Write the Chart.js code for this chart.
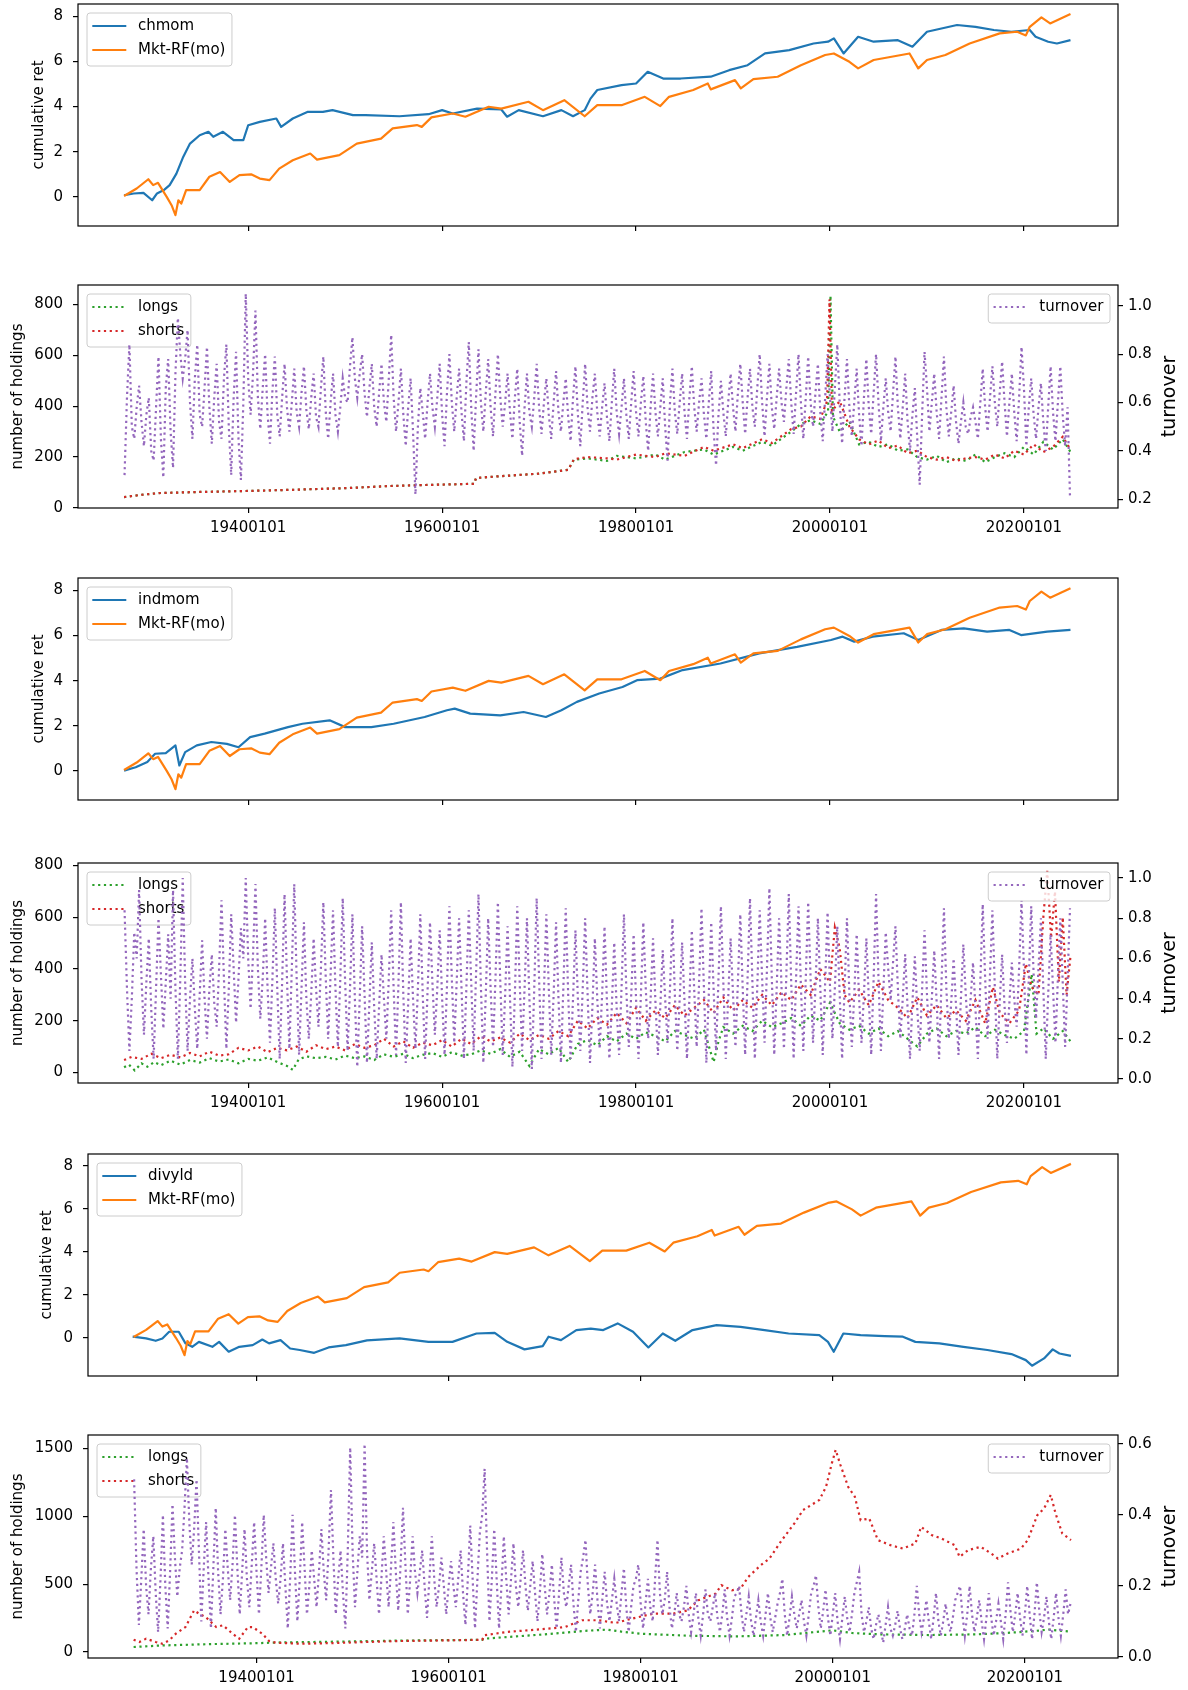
<!DOCTYPE html>
<html>
<head>
<meta charset="utf-8">
<script src="https://cdn.jsdelivr.net/npm/chart.js@4.4.1/dist/chart.umd.min.js"></script>
<style>
html, body { margin: 0; padding: 0; background: #fff; overflow: hidden; }
#wrap { position: relative; width: 1188px; height: 1690px; }
canvas { position: absolute; left: 0; }
</style>
</head>
<body>
<div id="wrap"></div>
<script>
// ---- data (years as decimal) ----
const xTicks = [1940, 1960, 1980, 2000, 2020];
const retTicks = [0, 2, 4, 6, 8];

const mktRf = [[1927.2,0.04],[1928.5,0.37],[1929.7,0.78],[1930.2,0.52],[1930.7,0.62],[1931.6,0.0],[1932.1,-0.37],[1932.5,-0.81],[1932.8,-0.15],[1933.1,-0.3],[1933.6,0.3],[1935,0.3],[1936,0.89],[1937.1,1.1],[1938.1,0.66],[1939.1,0.96],[1940.3,1.0],[1941.2,0.81],[1942.2,0.74],[1943.2,1.25],[1944.6,1.62],[1946.4,1.92],[1947.1,1.65],[1949.4,1.85],[1951.2,2.36],[1953.7,2.58],[1954.9,3.03],[1957.4,3.18],[1957.9,3.1],[1958.9,3.52],[1961.1,3.69],[1962.4,3.55],[1964.8,3.99],[1966.1,3.91],[1968.9,4.21],[1970.4,3.84],[1972.6,4.28],[1974.7,3.57],[1976,4.06],[1978.5,4.06],[1980.9,4.43],[1982.5,4.02],[1983.4,4.43],[1985.9,4.73],[1987.4,5.02],[1987.7,4.76],[1990.2,5.17],[1990.8,4.8],[1992.1,5.21],[1994.6,5.32],[1997,5.83],[1999.5,6.28],[2000.4,6.35],[2002,5.98],[2002.9,5.69],[2004.5,6.06],[2008.2,6.35],[2009.1,5.69],[2010,6.06],[2011.9,6.28],[2014.4,6.79],[2017.5,7.24],[2019.3,7.31],[2020.2,7.15],[2020.6,7.53],[2021.8,7.95],[2022.7,7.68],[2024.8,8.1]];

const chmom = [[1927.2,0.07],[1928.2,0.15],[1929.2,0.18],[1930.1,-0.15],[1930.6,0.15],[1931.3,0.3],[1931.9,0.52],[1932.6,1.03],[1933.3,1.77],[1934,2.36],[1935,2.73],[1935.9,2.88],[1936.4,2.66],[1937.4,2.88],[1938.5,2.51],[1939.5,2.51],[1940,3.17],[1941.2,3.32],[1942.9,3.47],[1943.4,3.1],[1944.6,3.47],[1946.1,3.76],[1947.7,3.76],[1948.7,3.84],[1950.8,3.62],[1952.1,3.62],[1955.6,3.57],[1958.6,3.66],[1960,3.84],[1961.1,3.69],[1963.6,3.91],[1966.1,3.87],[1966.7,3.55],[1967.9,3.84],[1970.4,3.57],[1972.3,3.84],[1973.5,3.57],[1974.7,3.84],[1975.3,4.35],[1976,4.73],[1978.5,4.95],[1980,5.02],[1981.2,5.54],[1982.8,5.24],[1984.6,5.24],[1987.7,5.32],[1989.6,5.61],[1991.5,5.83],[1993.3,6.35],[1995.8,6.5],[1998.3,6.79],[1999.8,6.87],[2000.4,7.02],[2001.4,6.35],[2002.9,7.09],[2004.5,6.87],[2007,6.94],[2008.5,6.65],[2010,7.31],[2013.1,7.61],[2015,7.53],[2016.9,7.39],[2018.7,7.31],[2020.6,7.39],[2021.2,7.09],[2022.5,6.87],[2023.4,6.79],[2024.8,6.94]];

const indmom = [[1927.2,0.01],[1928.4,0.16],[1929.6,0.39],[1930.4,0.76],[1931.5,0.79],[1932.5,1.13],[1932.9,0.24],[1933.5,0.83],[1934.7,1.13],[1936.2,1.28],[1937.8,1.2],[1939,1.05],[1940.2,1.5],[1941.7,1.65],[1944.1,1.94],[1945.6,2.09],[1948.4,2.24],[1950,1.94],[1952.7,1.94],[1955,2.09],[1958.2,2.39],[1960.5,2.69],[1961.3,2.76],[1962.9,2.54],[1966,2.46],[1968.4,2.61],[1970.7,2.39],[1972.3,2.69],[1973.9,3.06],[1976.2,3.43],[1978.6,3.72],[1980.1,4.02],[1982.5,4.09],[1984.8,4.47],[1988.7,4.76],[1992.7,5.21],[1996.6,5.5],[2000.1,5.8],[2001.3,5.95],[2002.5,5.73],[2004.4,5.95],[2007.6,6.1],[2009.1,5.8],[2011.5,6.25],[2013.8,6.32],[2016.2,6.17],[2018.5,6.25],[2019.7,6.02],[2022.4,6.17],[2024.8,6.25]];

const divyld = [[1927.1,0.05],[1928.5,-0.03],[1929.5,-0.14],[1930.2,-0.03],[1930.9,0.28],[1931.9,0.28],[1932.6,-0.26],[1933.3,-0.42],[1934,-0.19],[1935.4,-0.42],[1936.1,-0.19],[1937.1,-0.65],[1938.2,-0.42],[1939.6,-0.34],[1940.6,-0.08],[1941.3,-0.26],[1942.5,-0.11],[1943.5,-0.5],[1944.5,-0.57],[1946,-0.7],[1947.5,-0.45],[1949.3,-0.34],[1951.5,-0.12],[1954.9,-0.03],[1957.9,-0.19],[1960.4,-0.19],[1962.9,0.2],[1964.8,0.23],[1966.1,-0.19],[1967.9,-0.54],[1969.8,-0.39],[1970.4,0.05],[1971.7,-0.11],[1973.3,0.36],[1974.8,0.43],[1976.1,0.36],[1977.6,0.67],[1979.2,0.28],[1980.8,-0.45],[1982.3,0.2],[1983.6,-0.14],[1985.4,0.36],[1987.9,0.59],[1990.4,0.51],[1992.9,0.36],[1995.4,0.2],[1998.6,0.12],[1999.5,-0.19],[2000.1,-0.65],[2001.1,0.2],[2002.9,0.12],[2005.4,0.08],[2007.3,0.05],[2008.6,-0.19],[2011.1,-0.26],[2013.6,-0.42],[2016.1,-0.57],[2018.6,-0.76],[2020.1,-1.04],[2020.75,-1.3],[2022,-0.96],[2022.9,-0.54],[2023.6,-0.73],[2024.8,-0.84]];

// holdings (left axis) as [year, count]
const chmomLongs = [[1927.2,43],[1929,52],[1931,59],[1935,63],[1940,67],[1945,72],[1950,78],[1955,87],[1960,92],[1963.3,95],[1963.5,118],[1966,125],[1970,135],[1973,150],[1973.6,190],[1975,195],[1977,185],[1978,205],[1980,195],[1982,210],[1983,190],[1985,220],[1987,230],[1988,210],[1990,240],[1991,225],[1993,260],[1994,245],[1996,300],[1997,330],[1998,345],[1999,330],[1999.8,380],[2000.05,834],[2000.3,360],[2001,300],[2002,340],[2003,250],[2004,260],[2005,240],[2006,250],[2007,225],[2008,230],[2009,200],[2010,190],[2011,205],[2012,180],[2013,195],[2014,185],[2015,210],[2016,180],[2017,200],[2018,215],[2019,200],[2020,240],[2021,210],[2022,260],[2023,230],[2024,270],[2024.8,220]];
const chmomShorts = [[1927.2,43],[1929,52],[1931,59],[1935,63],[1940,67],[1945,72],[1950,78],[1955,87],[1960,92],[1963.3,95],[1963.5,118],[1966,125],[1970,135],[1973,150],[1973.6,192],[1975,200],[1977,195],[1978,190],[1980,210],[1982,200],[1983,215],[1985,205],[1987,240],[1988,225],[1990,250],[1991,235],[1993,270],[1994,255],[1996,310],[1997,320],[1998,360],[1999,350],[1999.7,420],[1999.95,820],[2000.2,380],[2001,420],[2002,320],[2003,270],[2004,250],[2005,265],[2006,235],[2007,245],[2008,215],[2009,225],[2010,200],[2011,190],[2012,200],[2013,185],[2014,195],[2015,200],[2016,190],[2017,210],[2018,195],[2019,225],[2020,210],[2021,250],[2022,220],[2023,240],[2024,280],[2024.8,230]];

const indmomLongs = [[1927.2,20],[1927.7,30],[1928.3,8],[1929,35],[1929.6,22],[1930.3,40],[1931,28],[1932,45],[1933,30],[1934,48],[1935,38],[1936,55],[1937,42],[1938,50],[1939,35],[1940,52],[1941,45],[1942,58],[1943,40],[1944,25],[1944.6,10],[1945.2,50],[1946,62],[1947,55],[1948,60],[1949,50],[1950,65],[1951,55],[1952,62],[1953,48],[1954,70],[1955,60],[1956,72],[1957,55],[1958,68],[1959,75],[1960,60],[1961,78],[1962,65],[1963,70],[1964,85],[1965,72],[1966,90],[1967,60],[1968,80],[1969,25],[1970,90],[1971,70],[1972,95],[1973,40],[1974,110],[1975,125],[1976,105],[1977,140],[1978,120],[1979,150],[1980,130],[1981,155],[1982,140],[1983,120],[1984,160],[1985,145],[1986,130],[1987,165],[1988,40],[1988.5,120],[1989,175],[1990,150],[1991,180],[1992,160],[1993,200],[1994,175],[1995,190],[1996,210],[1997,180],[1998,220],[1999,200],[2000,270],[2001,190],[2002,165],[2003,180],[2004,150],[2005,170],[2006,140],[2007,160],[2008,130],[2009,100],[2010,150],[2011,170],[2012,140],[2013,160],[2014,150],[2015,175],[2016,140],[2017,165],[2018,145],[2019,130],[2020,160],[2020.8,380],[2021.3,150],[2022,170],[2023,130],[2024,160],[2024.8,120]];
const indmomShorts = [[1927.2,48],[1928,60],[1929,52],[1930,72],[1931,55],[1932,68],[1933,58],[1934,75],[1935,62],[1936,80],[1937,65],[1938,70],[1939,95],[1940,85],[1941,100],[1942,78],[1943,95],[1944,85],[1945,100],[1946,80],[1947,105],[1948,90],[1949,100],[1950,85],[1951,110],[1952,95],[1953,105],[1954,130],[1955,100],[1956,120],[1957,95],[1958,115],[1959,105],[1960,125],[1961,100],[1962,130],[1963,110],[1964,140],[1965,120],[1966,135],[1967,115],[1968,150],[1969,125],[1970,145],[1971,130],[1972,160],[1973,140],[1974,200],[1975,170],[1976,210],[1977,185],[1978,230],[1979,190],[1980,250],[1981,200],[1982,240],[1983,210],[1984,260],[1985,220],[1986,250],[1987,280],[1988,230],[1989,290],[1990,240],[1991,280],[1992,250],[1993,300],[1994,260],[1995,310],[1996,280],[1997,340],[1998,300],[1999,400],[2000,350],[2000.5,560],[2001,480],[2001.5,300],[2002,270],[2003,320],[2004,260],[2005,350],[2006,280],[2007,250],[2008,210],[2009,290],[2010,220],[2011,260],[2012,210],[2013,240],[2014,200],[2015,280],[2016,190],[2016.8,330],[2017.5,230],[2018.5,190],[2019.5,240],[2020.2,420],[2020.8,330],[2021.5,300],[2022,600],[2022.4,780],[2022.8,520],[2023.2,700],[2023.6,350],[2024,600],[2024.4,300],[2024.8,450]];

const divyldLongs = [[1927.2,37],[1930,48],[1935,58],[1940,65],[1942,70],[1950,78],[1955,84],[1963.5,90],[1963.7,98],[1966,110],[1970,130],[1974,155],[1976.5,165],[1978,150],[1980,135],[1985,120],[1990,115],[1995,125],[2000,160],[2002,140],[2005,130],[2010,125],[2015,130],[2018,140],[2021,155],[2022.5,165],[2024.8,150]];
const divyldShorts = [[1927.2,91],[1927.8,74],[1928.5,98],[1929.5,74],[1930.2,61],[1930.9,86],[1931.6,135],[1932.6,184],[1933.5,307],[1934,283],[1934.7,258],[1935.8,184],[1936.5,197],[1937.5,135],[1938.2,98],[1939.1,184],[1939.6,184],[1940.6,135],[1941.3,81],[1942,69],[1944.5,61],[1948,66],[1951.4,74],[1955,81],[1960,86],[1963.5,90],[1963.7,123],[1966.1,148],[1970.4,172],[1972.1,184],[1973.9,234],[1975.6,234],[1977.4,214],[1979.1,246],[1981.3,283],[1983.4,283],[1984.9,307],[1986,381],[1987.8,430],[1988.4,492],[1989.5,455],[1990.4,467],[1991.2,553],[1992.5,639],[1993.4,688],[1994.7,824],[1996,947],[1996.9,1045],[1998.6,1119],[1999.3,1217],[1999.9,1389],[2000.3,1488],[2000.8,1377],[2001.6,1217],[2002.3,1143],[2002.9,971],[2003.8,983],[2004.7,824],[2006,787],[2007.3,762],[2008.6,799],[2009.2,922],[2010.3,861],[2011.3,836],[2012.7,787],[2013.2,701],[2014.1,750],[2015.4,775],[2016.5,725],[2017.2,688],[2018.2,725],[2019.6,762],[2020.3,824],[2021.3,1008],[2022,1057],[2022.7,1156],[2023.2,1020],[2023.9,873],[2024.8,824]];

// turnover (right axis), one value per quarter from 1927.25 to 2024.75
const quarters = [];
for (let i = 0; i < 391; i++) quarters.push(1927.25 + i * 0.25);

const chmomTurnover = [
  0.30,0.62,0.84,0.50,0.45,0.58,0.67,0.52,0.42,0.55,
  0.62,0.40,0.36,0.58,0.79,0.45,0.29,0.66,0.78,0.48,
  0.33,0.72,0.95,0.80,0.70,0.78,0.90,0.60,0.45,0.70,
  0.84,0.55,0.50,0.66,0.83,0.58,0.43,0.62,0.76,0.52,
  0.45,0.70,0.84,0.50,0.30,0.62,0.81,0.45,0.28,0.60,
  1.05,0.70,0.55,0.72,0.98,0.62,0.49,0.66,0.80,0.55,
  0.43,0.65,0.79,0.55,0.46,0.62,0.76,0.58,0.48,0.60,
  0.74,0.56,0.50,0.64,0.75,0.57,0.49,0.62,0.72,0.54,
  0.50,0.66,0.79,0.56,0.45,0.60,0.72,0.55,0.48,0.58,
  0.70,0.62,0.60,0.75,0.87,0.70,0.62,0.72,0.80,0.64,
  0.54,0.66,0.76,0.58,0.50,0.64,0.76,0.60,0.52,0.70,
  0.88,0.62,0.48,0.60,0.74,0.55,0.42,0.58,0.70,0.48,
  0.22,0.50,0.66,0.56,0.45,0.60,0.72,0.58,0.50,0.62,
  0.76,0.55,0.42,0.64,0.80,0.60,0.48,0.62,0.74,0.56,
  0.44,0.68,0.85,0.58,0.40,0.62,0.82,0.60,0.48,0.64,
  0.78,0.58,0.46,0.64,0.80,0.62,0.50,0.60,0.72,0.56,
  0.45,0.62,0.74,0.52,0.38,0.58,0.72,0.56,0.50,0.62,
  0.76,0.58,0.47,0.60,0.70,0.55,0.45,0.60,0.73,0.56,
  0.48,0.60,0.70,0.54,0.44,0.62,0.75,0.55,0.42,0.60,
  0.76,0.58,0.48,0.62,0.72,0.56,0.46,0.58,0.68,0.54,
  0.44,0.60,0.74,0.56,0.47,0.58,0.70,0.55,0.45,0.60,
  0.73,0.56,0.46,0.60,0.71,0.52,0.40,0.58,0.72,0.56,
  0.46,0.58,0.70,0.50,0.36,0.60,0.74,0.56,0.47,0.60,
  0.72,0.56,0.45,0.62,0.75,0.58,0.48,0.60,0.70,0.55,
  0.45,0.60,0.73,0.48,0.34,0.55,0.69,0.56,0.46,0.60,
  0.72,0.58,0.48,0.64,0.76,0.60,0.47,0.62,0.74,0.58,
  0.50,0.66,0.80,0.60,0.46,0.62,0.76,0.58,0.49,0.62,
  0.74,0.60,0.52,0.66,0.78,0.60,0.47,0.64,0.80,0.60,
  0.45,0.62,0.79,0.60,0.50,0.64,0.76,0.56,0.44,0.62,
  0.80,0.62,0.48,0.66,0.84,0.60,0.43,0.62,0.78,0.58,
  0.46,0.60,0.74,0.55,0.42,0.62,0.78,0.58,0.47,0.64,
  0.80,0.60,0.44,0.58,0.70,0.56,0.48,0.64,0.79,0.58,
  0.45,0.58,0.72,0.52,0.40,0.55,0.66,0.45,0.26,0.55,
  0.81,0.66,0.48,0.60,0.72,0.56,0.45,0.62,0.79,0.58,
  0.46,0.56,0.67,0.52,0.43,0.52,0.60,0.50,0.47,0.54,
  0.58,0.52,0.45,0.60,0.74,0.58,0.48,0.62,0.75,0.60,
  0.50,0.64,0.77,0.60,0.46,0.60,0.72,0.56,0.44,0.62,
  0.83,0.66,0.42,0.58,0.70,0.55,0.45,0.58,0.68,0.52,
  0.40,0.58,0.75,0.56,0.44,0.60,0.75,0.55,0.42,0.58,
  0.21];

const indmomTurnover = [
  0.84,0.45,0.14,0.40,0.73,0.60,0.94,0.50,0.22,0.48,
  0.70,0.35,0.10,0.45,0.80,0.52,0.25,0.48,0.72,0.40,
  0.94,0.45,0.10,0.50,1.00,0.48,0.14,0.40,0.60,0.35,
  0.15,0.42,0.69,0.40,0.20,0.45,0.62,0.38,0.26,0.55,
  0.89,0.50,0.15,0.45,0.82,0.55,0.28,0.50,0.75,0.60,
  1.00,0.60,0.35,0.62,0.97,0.55,0.30,0.50,0.80,0.45,
  0.18,0.50,0.85,0.45,0.10,0.48,0.92,0.50,0.15,0.55,
  0.97,0.50,0.12,0.45,0.78,0.40,0.20,0.42,0.70,0.45,
  0.26,0.55,0.88,0.50,0.20,0.52,0.84,0.45,0.16,0.50,
  0.90,0.48,0.14,0.45,0.82,0.40,0.06,0.40,0.76,0.42,
  0.08,0.38,0.68,0.35,0.10,0.36,0.62,0.40,0.20,0.50,
  0.84,0.45,0.12,0.48,0.88,0.42,0.08,0.38,0.70,0.40,
  0.15,0.45,0.82,0.42,0.10,0.44,0.78,0.48,0.22,0.45,
  0.74,0.40,0.12,0.46,0.86,0.50,0.18,0.48,0.80,0.45,
  0.10,0.45,0.84,0.48,0.14,0.52,0.92,0.46,0.08,0.42,
  0.80,0.45,0.16,0.50,0.88,0.48,0.12,0.42,0.76,0.40,
  0.06,0.42,0.86,0.48,0.14,0.45,0.80,0.40,0.05,0.45,
  0.90,0.50,0.10,0.44,0.82,0.45,0.12,0.42,0.78,0.40,
  0.08,0.45,0.85,0.42,0.10,0.40,0.74,0.40,0.14,0.45,
  0.80,0.42,0.08,0.36,0.70,0.40,0.15,0.42,0.76,0.38,
  0.10,0.36,0.68,0.35,0.12,0.45,0.82,0.44,0.16,0.42,
  0.72,0.40,0.10,0.42,0.78,0.45,0.20,0.40,0.70,0.38,
  0.12,0.36,0.64,0.40,0.18,0.45,0.80,0.42,0.14,0.40,
  0.68,0.38,0.10,0.40,0.74,0.44,0.16,0.48,0.85,0.45,
  0.08,0.42,0.78,0.44,0.14,0.50,0.86,0.48,0.10,0.40,
  0.70,0.42,0.16,0.48,0.82,0.45,0.12,0.50,0.90,0.48,
  0.10,0.46,0.84,0.50,0.18,0.55,0.95,0.50,0.12,0.45,
  0.80,0.46,0.15,0.52,0.92,0.48,0.10,0.50,0.86,0.46,
  0.14,0.50,0.88,0.50,0.18,0.46,0.80,0.45,0.12,0.48,
  0.83,0.46,0.20,0.45,0.76,0.42,0.10,0.45,0.80,0.42,
  0.16,0.42,0.72,0.40,0.18,0.42,0.70,0.40,0.12,0.50,
  0.92,0.50,0.14,0.44,0.73,0.55,0.39,0.58,0.76,0.45,
  0.20,0.40,0.62,0.35,0.10,0.38,0.61,0.35,0.14,0.45,
  0.74,0.42,0.18,0.40,0.64,0.38,0.10,0.48,0.85,0.45,
  0.20,0.38,0.60,0.36,0.12,0.40,0.67,0.42,0.22,0.40,
  0.58,0.35,0.10,0.48,0.87,0.50,0.20,0.52,0.84,0.45,
  0.10,0.38,0.62,0.36,0.18,0.38,0.58,0.40,0.26,0.55,
  0.89,0.55,0.12,0.50,0.86,0.52,0.30,0.55,0.80,0.45,
  0.10,0.42,0.72,0.45,0.18,0.50,0.80,0.48,0.16,0.50,
  0.85];

const divyldTurnover = [
  0.50,0.25,0.09,0.22,0.36,0.20,0.12,0.25,0.34,0.18,
  0.07,0.22,0.40,0.20,0.08,0.24,0.43,0.28,0.17,0.25,
  0.30,0.42,0.56,0.38,0.26,0.36,0.50,0.30,0.10,0.25,
  0.38,0.22,0.08,0.25,0.42,0.24,0.12,0.22,0.36,0.25,
  0.16,0.26,0.40,0.25,0.12,0.24,0.36,0.22,0.14,0.26,
  0.38,0.24,0.12,0.25,0.40,0.28,0.18,0.25,0.32,0.22,
  0.15,0.22,0.32,0.20,0.08,0.22,0.40,0.24,0.10,0.22,
  0.38,0.25,0.12,0.20,0.30,0.22,0.14,0.24,0.36,0.24,
  0.16,0.30,0.47,0.28,0.12,0.22,0.30,0.18,0.08,0.30,
  0.59,0.30,0.14,0.24,0.34,0.28,0.60,0.30,0.16,0.24,
  0.32,0.22,0.12,0.22,0.34,0.24,0.14,0.25,0.38,0.24,
  0.13,0.26,0.42,0.26,0.12,0.22,0.34,0.24,0.18,0.24,
  0.30,0.20,0.11,0.22,0.34,0.22,0.14,0.20,0.28,0.20,
  0.12,0.20,0.27,0.20,0.14,0.22,0.30,0.18,0.09,0.22,
  0.37,0.22,0.08,0.22,0.35,0.40,0.53,0.30,0.10,0.22,
  0.36,0.22,0.08,0.20,0.34,0.22,0.12,0.22,0.32,0.20,
  0.14,0.22,0.30,0.20,0.13,0.20,0.27,0.18,0.10,0.18,
  0.29,0.20,0.12,0.18,0.26,0.16,0.08,0.18,0.28,0.18,
  0.14,0.20,0.26,0.15,0.07,0.16,0.24,0.28,0.33,0.20,
  0.12,0.18,0.26,0.16,0.08,0.16,0.24,0.15,0.10,0.16,
  0.22,0.15,0.10,0.18,0.25,0.14,0.07,0.14,0.20,0.22,
  0.26,0.15,0.08,0.15,0.22,0.14,0.10,0.22,0.33,0.18,
  0.12,0.16,0.24,0.14,0.08,0.12,0.18,0.12,0.10,0.14,
  0.20,0.12,0.07,0.12,0.18,0.11,0.06,0.12,0.19,0.12,
  0.10,0.14,0.18,0.11,0.07,0.12,0.19,0.11,0.06,0.11,
  0.17,0.18,0.20,0.12,0.07,0.12,0.17,0.10,0.06,0.11,
  0.16,0.10,0.06,0.12,0.18,0.11,0.07,0.11,0.15,0.18,
  0.22,0.12,0.06,0.11,0.17,0.12,0.08,0.12,0.16,0.10,
  0.06,0.12,0.18,0.20,0.23,0.14,0.08,0.13,0.19,0.11,
  0.06,0.12,0.18,0.10,0.05,0.11,0.17,0.11,0.07,0.12,
  0.18,0.21,0.24,0.12,0.07,0.10,0.14,0.08,0.05,0.09,
  0.12,0.08,0.04,0.09,0.14,0.08,0.06,0.09,0.13,0.08,
  0.05,0.08,0.12,0.08,0.06,0.12,0.20,0.12,0.07,0.11,
  0.16,0.10,0.05,0.11,0.18,0.10,0.06,0.10,0.15,0.10,
  0.07,0.11,0.16,0.18,0.20,0.12,0.06,0.12,0.20,0.12,
  0.07,0.11,0.16,0.10,0.05,0.11,0.18,0.11,0.06,0.10,
  0.15,0.10,0.05,0.12,0.21,0.13,0.07,0.12,0.18,0.11,
  0.06,0.12,0.20,0.12,0.05,0.12,0.21,0.13,0.07,0.11,
  0.17,0.10,0.05,0.11,0.18,0.11,0.06,0.12,0.19,0.12,
  0.15];

// ---- styling ----
const FONT = '"DejaVu Sans", sans-serif';
const C = { blue: '#1f77b4', orange: '#ff7f0e', green: '#2ca02c', red: '#d62728', purple: '#9467bd' };
const DOT = [2.2, 3.6];
const X_MIN = 1922.45, X_MAX = 2029.7;
const PAD_TOP = 24;

function pairs(arr) { return arr.map(p => ({ x: p[0], y: p[1] })); }
function onGrid(xs, vals) { return vals.map((v, i) => ({ x: xs[i], y: v })); }

function roundBox(ctx, x, y, w, h, r) {
  ctx.beginPath();
  ctx.moveTo(x + r, y);
  ctx.arcTo(x + w, y, x + w, y + h, r);
  ctx.arcTo(x + w, y + h, x, y + h, r);
  ctx.arcTo(x, y + h, x, y, r);
  ctx.arcTo(x, y, x + w, y, r);
  ctx.closePath();
}

function drawLegend(chart, items, side) {
  const a = chart.chartArea, ctx = chart.ctx;
  ctx.save();
  ctx.font = '15px ' + FONT;
  let tw = 0;
  items.forEach(it => { tw = Math.max(tw, ctx.measureText(it.label).width); });
  const w = 5.3 + 34 + 11.7 + tw + 6.5, h = 24 * items.length + 5;
  const x = side === 'left' ? a.left + 9 : a.right - 8 - w;
  const y = a.top + 9;
  roundBox(ctx, x, y, w, h, 3);
  ctx.fillStyle = 'rgba(255,255,255,0.8)';
  ctx.fill();
  ctx.strokeStyle = '#cccccc';
  ctx.lineWidth = 1;
  ctx.stroke();
  items.forEach((it, i) => {
    const cy = y + 13 + 24 * i;
    ctx.beginPath();
    ctx.setLineDash(it.dash || []);
    ctx.strokeStyle = it.color;
    ctx.lineWidth = 2.2;
    ctx.moveTo(x + 5.3, cy);
    ctx.lineTo(x + 39.3, cy);
    ctx.stroke();
    ctx.setLineDash([]);
    ctx.fillStyle = '#000';
    ctx.textAlign = 'left';
    ctx.textBaseline = 'middle';
    ctx.fillText(it.label, x + 51, cy);
  });
  ctx.restore();
}

function vText(ctx, text, x, y, size) {
  ctx.save();
  ctx.font = size + 'px ' + FONT;
  ctx.fillStyle = '#000';
  ctx.translate(x, y);
  ctx.rotate(-Math.PI / 2);
  ctx.textAlign = 'center';
  ctx.textBaseline = 'middle';
  ctx.fillText(text, 0, 0);
  ctx.restore();
}

const deco = {
  id: 'deco',
  beforeDatasetDraw(chart, args, opts) {
    if (opts.twinIndex === args.index && opts.legendL) drawLegend(chart, opts.legendL, 'left');
  },
  afterDraw(chart, args, opts) {
    const a = chart.chartArea, ctx = chart.ctx;
    ctx.save();
    ctx.strokeStyle = '#000';
    ctx.lineWidth = 1.2;
    ctx.strokeRect(a.left, a.top, a.right - a.left, a.bottom - a.top);
    ctx.restore();
    const mid = (a.top + a.bottom) / 2;
    if (opts.titleL) vText(ctx, opts.titleL.text, opts.titleL.x, mid, 15);
    if (opts.titleR) vText(ctx, opts.titleR.text, opts.titleR.x, mid, 19);
    if (opts.twinIndex == null && opts.legendL) drawLegend(chart, opts.legendL, 'left');
    if (opts.legendR) drawLegend(chart, opts.legendR, 'right');
  }
};

const gridOpts = { drawOnChartArea: false, drawTicks: true, tickLength: 5, color: '#000', tickColor: '#000', lineWidth: 1.2, tickWidth: 1.2 };
const tickFont = { family: FONT, size: 15 };

function axisX(showLabels, height) {
  return {
    type: 'linear', min: X_MIN, max: X_MAX,
    afterBuildTicks: s => { s.ticks = xTicks.map(v => ({ value: v })); },
    afterFit: s => { s.height = height; },
    grid: gridOpts,
    border: { display: false },
    ticks: { display: showLabels, padding: 6, maxRotation: 0, autoSkip: false, color: '#000', font: tickFont, callback: v => v + '0101' }
  };
}

function axisY(pos, lim, ticks, fmt, width) {
  return {
    type: 'linear', position: pos, min: lim[0], max: lim[1],
    afterBuildTicks: s => { s.ticks = ticks.map(v => ({ value: v })); },
    afterFit: s => { s.width = width; },
    grid: gridOpts,
    border: { display: false },
    ticks: { padding: pos === 'left' ? 10 : 5, autoSkip: false, color: '#000', font: tickFont, callback: fmt }
  };
}

function makeCanvas(g) {
  const xh = g.xLabels ? 40 : 26;
  const c = document.createElement('canvas');
  c.width = 1188;
  c.height = PAD_TOP + (g.bottom - g.top) + xh;
  c.style.top = (g.top - PAD_TOP) + 'px';
  document.getElementById('wrap').appendChild(c);
  return { ctx: c.getContext('2d'), xh };
}

function solid(data, color, order) {
  return { data: pairs(data), borderColor: color, borderWidth: 2.2, pointRadius: 0, tension: 0, borderJoinStyle: 'round', order: order };
}
function dotted(data, color, order, axis) {
  return { data: data, borderColor: color, borderWidth: 2.2, borderDash: DOT, pointRadius: 0, tension: 0, order: order, yAxisID: axis };
}

function returnPanel(g, name, series, ylim) {
  const { ctx, xh } = makeCanvas(g);
  new Chart(ctx, {
    type: 'line',
    data: { datasets: [solid(series, C.blue, 2), solid(mktRf, C.orange, 1)] },
    options: {
      responsive: false, animation: false, events: [],
      layout: { padding: { top: PAD_TOP, left: 0, right: 70, bottom: 0 } },
      plugins: {
        legend: { display: false }, tooltip: { enabled: false },
        deco: {
          titleL: { text: 'cumulative ret', x: g.titleX },
          legendL: [{ label: name, color: C.blue }, { label: 'Mkt-RF(mo)', color: C.orange }]
        }
      },
      scales: {
        x: axisX(false, xh),
        y: axisY('left', ylim, retTicks, v => String(v), g.left)
      }
    },
    plugins: [deco]
  });
}

function holdingsPanel(g, longs, shorts, turnover, leftLim, leftTicks, rightLim, rightTicks) {
  const { ctx, xh } = makeCanvas(g);
  new Chart(ctx, {
    type: 'line',
    data: {
      datasets: [
        dotted(pairs(longs), C.green, 3, 'y'),
        dotted(pairs(shorts), C.red, 2, 'y'),
        dotted(onGrid(quarters, turnover), C.purple, 1, 'y2')
      ]
    },
    options: {
      responsive: false, animation: false, events: [],
      layout: { padding: { top: PAD_TOP, left: 0, right: 0, bottom: 0 } },
      plugins: {
        legend: { display: false }, tooltip: { enabled: false },
        deco: {
          twinIndex: 2,
          titleL: { text: 'number of holdings', x: 18 },
          titleR: { text: 'turnover', x: 1170 },
          legendL: [{ label: 'longs', color: C.green, dash: DOT }, { label: 'shorts', color: C.red, dash: DOT }],
          legendR: [{ label: 'turnover', color: C.purple, dash: DOT }]
        }
      },
      scales: {
        x: axisX(true, xh),
        y: axisY('left', leftLim, leftTicks, v => String(v), g.left),
        y2: axisY('right', rightLim, rightTicks, v => v.toFixed(1), 70)
      }
    },
    plugins: [deco]
  });
}

returnPanel({ top: 4, bottom: 226, left: 78, titleX: 39, xLabels: false }, 'chmom', chmom, [-1.29, 8.54]);
holdingsPanel({ top: 285, bottom: 508, left: 78, xLabels: true }, chmomLongs, chmomShorts, chmomTurnover,
  [0, 876], [0, 200, 400, 600, 800], [0.164, 1.086], [0.2, 0.4, 0.6, 0.8, 1.0]);
returnPanel({ top: 578, bottom: 800, left: 78, titleX: 39, xLabels: false }, 'indmom', indmom, [-1.29, 8.55]);
holdingsPanel({ top: 863, bottom: 1083, left: 78, xLabels: true }, indmomLongs, indmomShorts, indmomTurnover,
  [-41, 810], [0, 200, 400, 600, 800], [-0.02, 1.075], [0.0, 0.2, 0.4, 0.6, 0.8, 1.0]);
returnPanel({ top: 1154, bottom: 1376, left: 88, titleX: 46.7, xLabels: false }, 'divyld', divyld, [-1.78, 8.56]);
holdingsPanel({ top: 1435, bottom: 1658, left: 88, xLabels: true }, divyldLongs, divyldShorts, divyldTurnover,
  [-44, 1598], [0, 500, 1000, 1500], [-0.003, 0.625], [0.0, 0.2, 0.4, 0.6]);
</script>
</body>
</html>
